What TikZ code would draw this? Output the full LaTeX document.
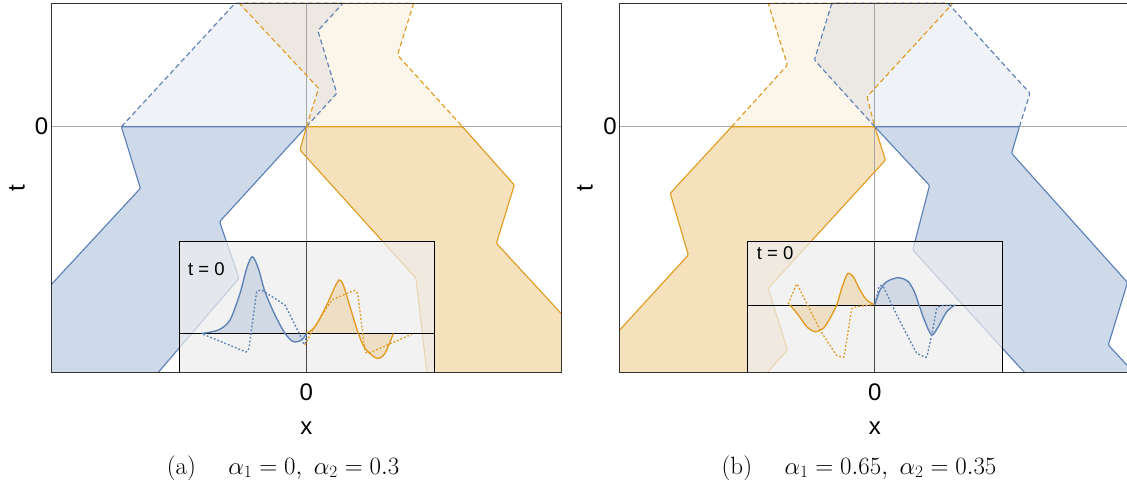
\documentclass[tikz,border=0pt]{standalone}
\usepackage{fontspec}
\newfontfamily\lsans{Liberation Sans}
\definecolor{mblue}{rgb}{0.368417,0.506779,0.709798}
\definecolor{morange}{rgb}{0.880722,0.611041,0.142051}
\begin{document}
\begin{tikzpicture}[x=1pt,y=-1pt,
  bsolid/.style={draw=mblue, line width=1.15pt, line join=round, rounded corners=1.2pt},
  osolid/.style={draw=morange, line width=1.15pt, line join=round, rounded corners=1.2pt},
  bdash/.style={bsolid, dash pattern=on 5pt off 3pt},
  odash/.style={osolid, dash pattern=on 5pt off 3pt},
  bfillS/.style={fill=mblue, fill opacity=0.3},
  ofillS/.style={fill=morange, fill opacity=0.3},
  bfillD/.style={fill=mblue, fill opacity=0.1},
  ofillD/.style={fill=morange, fill opacity=0.1},
  axisline/.style={draw=black!35, line width=0.7pt},
  frameline/.style={draw=black!80, line width=0.9pt},
  insetbg/.style={fill=black!7, fill opacity=0.72},
  insetframe/.style={draw=black, line width=1pt},
  insetaxis/.style={draw=black!70, line width=0.8pt},
  curveb/.style={draw=mblue, line width=1.35pt},
  curveo/.style={draw=morange, line width=1.35pt},
  dotb/.style={draw=mblue, line width=1.35pt, dash pattern=on 1.8pt off 2pt, rounded corners=1pt},
  doto/.style={draw=morange, line width=1.35pt, dash pattern=on 1.8pt off 2pt, rounded corners=1pt},
  cfillb/.style={fill=mblue, fill opacity=0.22},
  cfillo/.style={fill=morange, fill opacity=0.22},
  axlabel/.style={font=\lsans\fontsize{24}{24}\selectfont, inner sep=0pt},
  tlabel/.style={font=\lsans\fontsize{18.5}{18.5}\selectfont, inner sep=0pt},
  caplabel/.style={font=\fontsize{25}{27}\selectfont, inner sep=0pt}
]
\useasboundingbox (0,0) rectangle (1127,484);
\clip (0,0) rectangle (1127,484);

% ================= Panel (a) =================
\fill[bfillD] (121.4,126.7) -- (235,3.3) -- (342.9,3.3) -- (317.9,30.7) -- (336.8,93.3) -- (306.4,126.7) -- cycle;
\fill[ofillD] (239.3,3.3) -- (413.6,3.3) -- (397.5,55) -- (462.5,126.7) -- (306.4,126.7) -- (318.6,88.3) -- cycle;
\fill[bfillS] (121.4,126.7) -- (140.4,188.3) -- (51.8,284) -- (51.8,372.7) -- (158,372.7) -- (239,278.3) -- (219.6,221.7) -- (306.4,126.7) -- cycle;
\fill[ofillS] (306.4,126.7) -- (300,150) -- (416,278.3) -- (426.8,372.7) -- (561,372.7) -- (561,313.3) -- (496.4,243.3) -- (514.3,185) -- (462.5,126.7) -- cycle;

\draw[axisline] (51.8,126.7) -- (561,126.7);
\draw[axisline] (306.4,3.3) -- (306.4,372.7);

\draw[bdash] (121.4,126.7) -- (235,3.3) -- (342.9,3.3) -- (317.9,30.7) -- (336.8,93.3) -- (306.4,126.7);
\draw[odash] (306.4,126.7) -- (318.6,88.3) -- (239.3,3.3) -- (413.6,3.3) -- (397.5,55) -- (462.5,126.7);
\draw[bsolid] (51.8,284) -- (140.4,188.3) -- (121.4,126.7) -- (306.4,126.7) -- (219.6,221.7) -- (239,278.3) -- (158,372.7);
\draw[osolid] (426.8,372.7) -- (416,278.3) -- (300,150) -- (306.4,126.7) -- (462.5,126.7) -- (514.3,185) -- (496.4,243.3) -- (561,313.3);

% inset (a)
\fill[insetbg] (179.3,241) rectangle (434.3,372.7);
\fill[cfillb] plot[smooth] coordinates {(201.7,333.5) (218.3,330) (230,320) (240,293.3) (246.7,268.3) (252.3,256.7) (258.3,268.3) (265,291.7) (275,315) (285,333.3) (293.3,341.7) (301.7,340) (306.4,333.5)} -- cycle;
\fill[cfillo] plot[smooth] coordinates {(306.4,333.5) (315,326.7) (326.7,305) (335,286.7) (339.3,280) (343.3,285) (350,306.7) (358.3,333.3) (365,348.3) (376.7,358.3) (385,353.3) (393.3,333.5)} -- cycle;
\draw[insetaxis] (306.4,241) -- (306.4,372.7);
\draw[black, line width=1pt] (179.3,333.5) -- (434.3,333.5);
\draw[curveb] plot[smooth] coordinates {(201.7,333.5) (218.3,330) (230,320) (240,293.3) (246.7,268.3) (252.3,256.7) (258.3,268.3) (265,291.7) (275,315) (285,333.3) (293.3,341.7) (301.7,340) (306.4,333.5)};
\draw[curveo] plot[smooth] coordinates {(306.4,333.5) (315,326.7) (326.7,305) (335,286.7) (339.3,280) (343.3,285) (350,306.7) (358.3,333.3) (365,348.3) (376.7,358.3) (385,353.3) (393.3,333.5)};
\draw[dotb] (203.3,334.3) -- (246.7,352.3) -- (249,348.3) -- (256.7,291) -- (261.7,290) -- (285,305) -- (300,335) -- (303.3,343.3) -- (305,345) -- (306.4,333.5);
\draw[doto] (305,345) -- (311.7,331.7) -- (331.7,300) -- (355,290) -- (357.7,293.3) -- (365,351.7) -- (368.3,353.3) -- (411.7,334.3);
\draw[insetframe] (179.3,241) rectangle (434.3,372.7);
\node[tlabel, anchor=base west] (tza) at (188,275.7) {t = 0};

\draw[frameline] (51.8,3.3) rectangle (561,372.7);
\node[axlabel, anchor=base east] (zla) at (48.5,135) {0};
\node[axlabel, rotate=90] (tla) at (17,188) {t};
\node[axlabel, anchor=base] (zba) at (306.4,400) {0};
\node[axlabel, anchor=base] (xla) at (306.4,434) {x};
\node[caplabel, anchor=base] (capa) at (283,474) {(a)\hspace{1.3em}$\alpha_1 = 0,\ \alpha_2 = 0.3$};

% ================= Panel (b) =================
\fill[ofillD] (768.2,3.3) -- (953,3.3) -- (867,96.7) -- (874.8,126.7) -- (731.6,126.7) -- (787.4,65) -- cycle;
\fill[bfillD] (831.8,3.3) -- (948,3.3) -- (1030,93.3) -- (1019.4,126.7) -- (874.8,126.7) -- (814.4,60) -- cycle;
\fill[ofillS] (731.6,126.7) -- (670.2,193.3) -- (688.3,255) -- (619.7,330) -- (619.7,372.7) -- (767.2,372.7) -- (787.4,350) -- (768.2,288.3) -- (885.5,160) -- (874.8,126.7) -- cycle;
\fill[bfillS] (874.8,126.7) -- (929.5,185.5) -- (912.8,250) -- (1024.7,372.7) -- (1134,372.7) -- (1108.3,345) -- (1127.5,282.5) -- (1011.6,153.3) -- (1019.4,126.7) -- cycle;

\draw[axisline] (619.7,126.7) -- (1130,126.7);
\draw[axisline] (874.8,3.3) -- (874.8,372.7);

\draw[odash] (731.6,126.7) -- (787.4,65) -- (768.2,3.3) -- (953,3.3) -- (867,96.7) -- (874.8,126.7);
\draw[bdash] (874.8,126.7) -- (814.4,60) -- (831.8,3.3) -- (948,3.3) -- (1030,93.3) -- (1019.4,126.7);
\draw[osolid] (619.7,330) -- (688.3,255) -- (670.2,193.3) -- (731.6,126.7) -- (874.8,126.7) -- (885.5,160) -- (768.2,288.3) -- (787.4,350) -- (767.2,372.7);
\draw[bsolid] (1024.7,372.7) -- (912.8,250) -- (929.5,185.5) -- (874.8,126.7) -- (1019.4,126.7) -- (1011.6,153.3) -- (1127.5,282.5) -- (1108.3,345) -- (1134,372.7);

% inset (b)
\fill[insetbg] (747.6,241) rectangle (1002.7,372.7);
\fill[cfillo] plot[smooth] coordinates {(790,305) (798.3,315) (806.7,326.7) (815,331.7) (823.3,328.3) (830,318.3) (836.7,305) (841.7,288.3) (846.7,275) (849,273.3) (853.3,276.7) (860,290) (866.7,300) (874.8,305)} -- cycle;
\fill[cfillb] plot[smooth] coordinates {(874.8,305) (880,290) (886.7,281.7) (898.3,277.7) (908.3,281.7) (915,293.3) (919,305) (925,321.7) (931.7,335) (938.3,326.7) (946.7,311.7) (955,305)} -- cycle;
\draw[insetaxis] (874.8,241) -- (874.8,372.7);
\draw[black, line width=1pt] (747.6,305) -- (1002.7,305);
\draw[curveo] plot[smooth] coordinates {(790,305) (798.3,315) (806.7,326.7) (815,331.7) (823.3,328.3) (830,318.3) (836.7,305) (841.7,288.3) (846.7,275) (849,273.3) (853.3,276.7) (860,290) (866.7,300) (874.8,305)};
\draw[curveb] plot[smooth] coordinates {(874.8,305) (880,290) (886.7,281.7) (898.3,277.7) (908.3,281.7) (915,293.3) (919,305) (925,321.7) (931.7,335) (938.3,326.7) (946.7,311.7) (955,305)};
\draw[doto] (788.3,304) -- (796.7,283.3) -- (820,330) -- (836.7,355.7) -- (844,357.7) -- (851.7,308.3) -- (856.7,306.7) -- (873.3,304.5);
\draw[dotb] (876,300) -- (879.3,285) -- (883.3,286.7) -- (896.7,315) -- (916.7,353.3) -- (926.7,357.7) -- (931.7,335) -- (936.7,308.3) -- (940,305.7) -- (953.3,305);
\draw[insetframe] (747.6,241) rectangle (1002.7,372.7);
\node[tlabel, anchor=base west] (tzb) at (756.7,259) {t = 0};

\draw[frameline] (619.7,3.3) rectangle (1130,372.7);
\node[axlabel, anchor=base east] (zlb) at (617,135) {0};
\node[axlabel, rotate=90] (tlb) at (585,188) {t};
\node[axlabel, anchor=base] (zbb) at (874.8,400) {0};
\node[axlabel, anchor=base] (xlb) at (874.8,434) {x};
\node[caplabel, anchor=base] (capb) at (859,474) {(b)\hspace{1.3em}$\alpha_1 = 0.65,\ \alpha_2 = 0.35$};
\end{tikzpicture}
\end{document}
